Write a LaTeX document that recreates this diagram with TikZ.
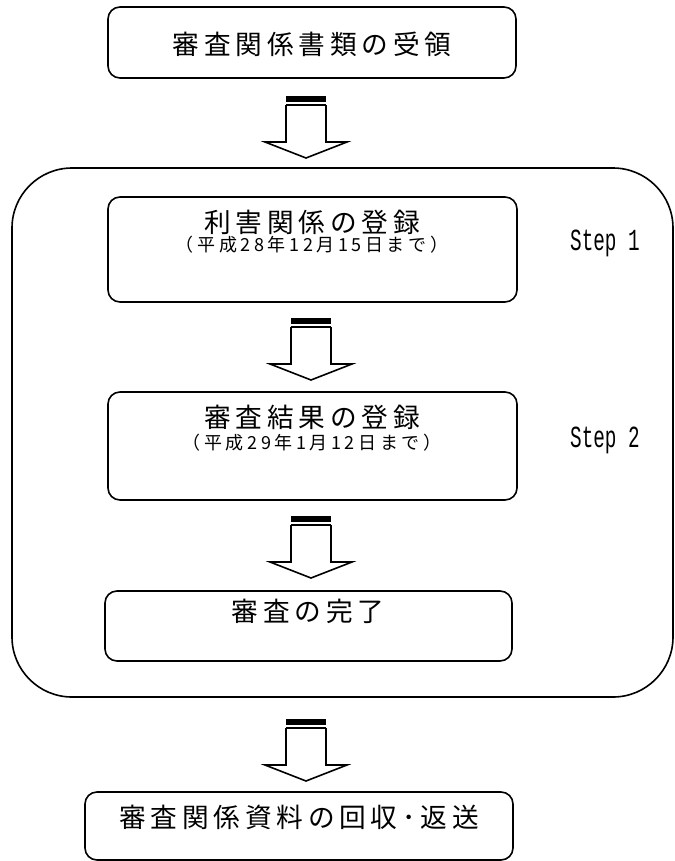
\documentclass[tikz,border=0pt]{standalone}
\usepackage{fontspec}
\newfontfamily\jpfont[LetterSpace=18]{Noto Sans CJK JP}
\newfontfamily\jpsmall[LetterSpace=20]{Noto Sans CJK JP}
\newfontfamily\stepfont{Liberation Mono}

\tikzset{
  flowbox/.style={draw,line width=1.2pt,rounded corners=9pt,inner sep=0pt},
  maintext/.style={font=\jpfont\fontsize{20}{24}\selectfont},
  datetext/.style={font=\jpsmall\fontsize{13.5}{16}\selectfont},
  steptext/.style={font=\stepfont\fontsize{23}{27}\selectfont,xscale=0.63,transform shape},
  downarrow/.pic={
    \fill (-20,0) rectangle (20,6);
    \draw[line width=1.2pt] (-20,9) -- (20,9);
    \draw[line width=1.2pt,line join=miter] (-20,9) -- (-20,46) -- (-41,46) -- (0,62)
      -- (41,46) -- (20,46) -- (20,9);
  }
}

\begin{document}
\begin{tikzpicture}[x=0.75pt,y=-0.75pt]
  \useasboundingbox (0,0) rectangle (675,861);

  % outer frame
  \draw[line width=1.2pt,rounded corners=45pt] (12,168) rectangle (673,697);

  % boxes (sizes in pt = 0.75 * pixels)
  \node[flowbox,minimum width=306pt,minimum height=53.25pt] (recv) at (312,42.5) {};
  \node[flowbox,minimum width=306.75pt,minimum height=78.75pt] (conf) at (312.5,249.5) {};
  \node[flowbox,minimum width=306.75pt,minimum height=81pt] (result) at (312.5,446) {};
  \node[flowbox,minimum width=305.25pt,minimum height=52.5pt] (done) at (308.5,626) {};
  \node[flowbox,minimum width=321pt,minimum height=51pt] (ret) at (299,826) {};

  % texts
  \node[maintext] (recvtxt) at (312,44) {審査関係書類の受領};
  \node[maintext] (conftxt) at (312,222) {利害関係の登録};
  \node[datetext] (confdate) at (312,245) {（平成28年12月15日まで）};
  \node[maintext] (resulttxt) at (312,417) {審査結果の登録};
  \node[datetext] (resultdate) at (312,443) {（平成29年1月12日まで）};
  \node[maintext] (donetxt) at (308,611) {審査の完了};
  \node[maintext] (rettxt) at (299,817) {審査関係資料の回収･返送};

  \node[steptext] (step1) at (605,243) {Step 1};
  \node[steptext] (step2) at (605,440) {Step 2};

  % arrows
  \pic at (306,96) {downarrow};
  \pic at (311,318) {downarrow};
  \pic at (311,516) {downarrow};
  \pic at (306,719) {downarrow};
\end{tikzpicture}
\end{document}
